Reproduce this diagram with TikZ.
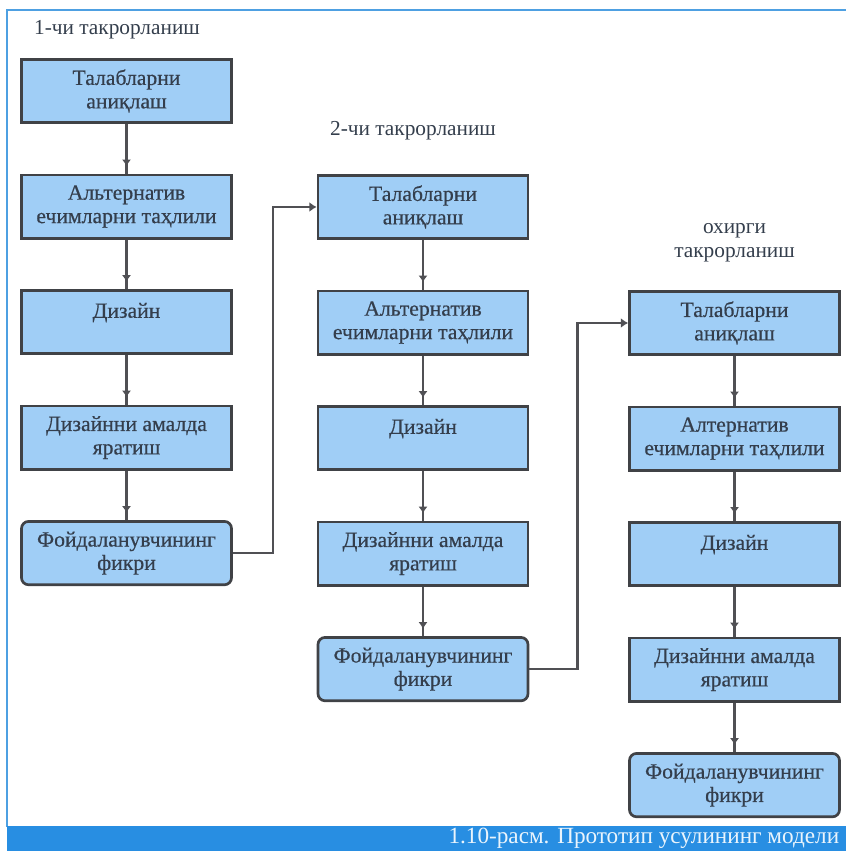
\documentclass[tikz,border=0pt]{standalone}
\usepackage{fontspec}
\setmainfont{Liberation Serif}
\newfontfamily\stagefont{Liberation Serif}[FakeBold=0.5]
\usetikzlibrary{arrows.meta,positioning,decorations.markings}
\definecolor{boxfill}{RGB}{160,206,246}
\definecolor{boxline}{RGB}{64,66,70}
\definecolor{linkgray}{RGB}{80,80,84}
\definecolor{frameblue}{RGB}{78,160,226}
\definecolor{barblue}{RGB}{40,142,226}
\definecolor{textgray}{RGB}{52,62,76}
\tikzset{
    stage/.style={rectangle,draw=boxline,fill=boxfill,line width=2.3pt,
        minimum width=6.3cm,minimum height=1.9cm,align=center,
        text=textgray,font=\stagefont\fontsize{18.5}{20}\selectfont},
    stagelast/.style={stage,rounded corners=6pt},
    heading/.style={text=textgray,align=center,font=\rmfamily\fontsize{18.2}{21}\selectfont},
    flow/.style={linkgray,line width=2.2pt,postaction={decorate},
        decoration={markings,mark=at position -0.22cm with {\arrow{Latex[length=0.2cm,width=0.28cm]}}}},
    jump/.style={linkgray,line width=2.2pt,-{Latex[length=0.22cm,width=0.3cm]}}
}

\begin{document}
\begin{tikzpicture}[node distance=1.485cm]

                % frame and caption
                \useasboundingbox (0,0) rectangle (25.38,-25.53);
                \draw[frameblue,line width=2.5pt] (0.21,-24.8) -- (0.21,-0.3) -- (25.38,-0.3);
                \fill[barblue] (0.21,-24.78) rectangle (25.38,-25.53);
                \node (caption) [anchor=east,text=white!90!barblue,font=\rmfamily\fontsize{19.8}{22}\selectfont] at (25.3,-25.15) {1.10-расм. Прототип усулининг модели};

                % 1-chi
                \node (title 1) [heading,anchor=west] at (0.9,-0.9) {1-чи такрорланиш};
                \node[stage] (first 1) at (3.795,-2.73) {Талабларни\\аниқлаш};
                \node[stage] (first 2) [below=of first 1] {Альтернатив\\ечимларни таҳлили};
                \node[stage] (first 3) [below=of first 2] {Дизайн\\\mbox{}};
                \node[stage] (first 4) [below=of first 3] {Дизайнни амалда\\яратиш};
                \node[stagelast] (first 5) [below=of first 4] {Фойдаланувчининг\\фикри};

                % 2-chi
                \node[stage] (second 1) at (12.69,-6.21) {Талабларни\\аниқлаш};
                \node (title 2) [heading,above=0.9cm of second 1,xshift=-0.3cm] {2-чи такрорланиш};
                \node[stage] (second 2) [below=of second 1] {Альтернатив\\ечимларни таҳлили};
                \node[stage] (second 3) [below=of second 2] {Дизайн\\\mbox{}};
                \node[stage] (second 4) [below=of second 3] {Дизайнни амалда\\яратиш};
                \node[stagelast] (second 5) [below=of second 4] {Фойдаланувчининг\\фикри};

                % oxirgi
                \node[stage] (last 1) at (22.035,-9.69) {Талабларни\\аниқлаш};
                \node (title 3) [heading,above=0.7cm of last 1] {охирги\\такрорланиш};
                \node[stage] (last 2) [below=of last 1] {Алтернатив\\ечимларни таҳлили};
                \node[stage] (last 3) [below=of last 2] {Дизайн\\\mbox{}};
                \node[stage] (last 4) [below=of last 3] {Дизайнни амалда\\яратиш};
                \node[stagelast] (last 5) [below=of last 4] {Фойдаланувчининг\\фикри};

                % connectors
                \draw[flow] (first 1) -- (first 2);
                \draw[flow] (first 2) -- (first 3);
                \draw[flow] (first 3) -- (first 4);
                \draw[flow] (first 4) -- (first 5);
                \draw[flow] (second 1) -- (second 2);
                \draw[flow] (second 2) -- (second 3);
                \draw[flow] (second 3) -- (second 4);
                \draw[flow] (second 4) -- (second 5);
                \draw[flow] (last 1) -- (last 2);
                \draw[flow] (last 2) -- (last 3);
                \draw[flow] (last 3) -- (last 4);
                \draw[flow] (last 4) -- (last 5);
                \draw[jump] (first 5.east) -- ++(1.2,0) |- (second 1.west);
                \draw[jump] (second 5.east) -- ++(1.44,0) |- (last 1.west);

\end{tikzpicture}
\end{document}
